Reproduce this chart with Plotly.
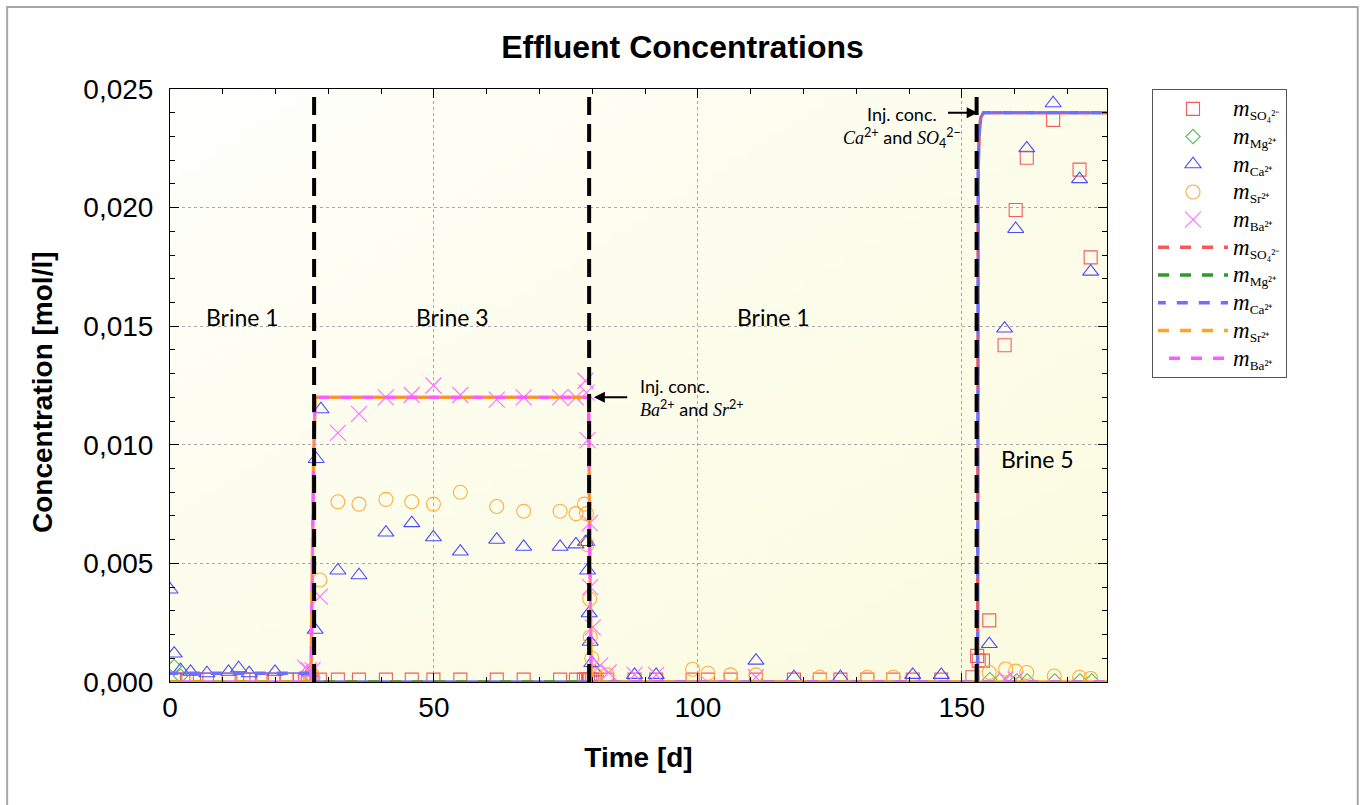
import base64
import struct
import zlib

import plotly.graph_objects as go

# ---------------- measured effluent concentrations [mol/l] ----------------
t_so4 = [1.0, 3.2, 5.0, 7.0, 11.1, 13.9, 15.2, 17.4, 19.6, 22.1, 24.6, 25.6, 26.1, 26.6, 27.0,
         28.4, 31.8, 35.8, 40.9, 45.8, 49.9, 55.0, 61.9, 67.0, 73.9, 76.9, 78.4, 78.8, 79.2,
         79.6, 80.0, 80.6, 82.8, 88.0, 92.1, 99.0, 101.9, 106.2, 111.0, 118.2, 123.1, 127.0,
         132.1, 137.0, 140.7, 146.1, 152.0, 152.9, 153.2, 154.0, 155.2, 158.1, 160.2, 162.3,
         167.3, 172.3, 174.4]
so4 = [0.0001, 0.0001, 0.0001, 0.0001, 0.0001, 0.0001, 0.0001, 0.0001, 0.0001, 0.0001, 0.0001,
       0.0001, 0.0001, 0.0001, 0.0001,
       0.0001, 0.0001, 0.0001, 0.0001, 0.0001, 0.0001, 0.0001, 0.0001, 0.0001, 0.0001, 0.0001,
       0.0001, 0.0001, 0.0001, 0.0001, 0.0001, 0.0001, 0.0001, 0.0001, 0.0001, 0.0001, 0.0001,
       0.0001, 0.0001, 0.0001, 0.0001, 0.0001, 0.0001, 0.0001, 0.0001, 0.0001, 0.0002, 0.0011,
       0.0009, 0.0009, 0.0026, 0.0142, 0.0199, 0.0221, 0.0237, 0.0216, 0.0179]

t_mg = [0.8, 2.0, 155.3, 157.2, 159.1, 160.4, 162.4, 167.6, 172.4, 174.6]
mg = [0.00065, 0.00025, 0.0001, 0.00005, 0.00005, 0.00005, 0.00005, 0.00005, 0.00005, 0.00005]

t_ca = [0.0, 0.8, 2.0, 3.9, 7.0, 11.1, 13.0, 15.0, 19.9, 26.5, 27.5, 27.7, 28.6, 31.8, 35.8,
        40.9, 45.8, 49.9, 55.0, 61.9, 67.0, 73.9, 76.9, 78.7, 79.0, 79.1, 79.4, 79.6, 79.9,
        80.6, 88.0, 92.1, 111.0, 118.2, 127.0, 140.7, 146.1, 155.2, 158.1, 160.2, 162.3,
        167.3, 172.3, 174.4]
ca = [0.0039, 0.0012, 0.0005, 0.00043, 0.00037, 0.00043, 0.00058, 0.00037, 0.00043, 0.0004,
      0.0022, 0.0094, 0.0115, 0.0047, 0.0045, 0.0063, 0.0067, 0.0061, 0.0055, 0.0060, 0.0057,
      0.0057, 0.0058, 0.0059, 0.0059, 0.0047, 0.0029, 0.0017, 0.0008, 0.0004, 0.0003, 0.0003,
      0.0009, 0.0002, 0.0002, 0.0003, 0.0003, 0.0016, 0.0149, 0.0191, 0.0225, 0.0244, 0.0212,
      0.0173]

t_sr = [26.5, 27.0, 28.4, 31.8, 35.8, 40.9, 45.8, 49.9, 55.0, 61.9, 67.0, 73.9, 76.9, 78.5,
        78.9, 79.0, 79.5, 79.6, 79.9, 80.6, 82.8, 99.0, 101.9, 106.2, 111.0, 123.1, 132.1,
        137.0, 155.2, 158.3, 160.2, 162.3, 167.5, 172.3, 174.4]
sr = [0.0004, 0.0003, 0.0043, 0.0076, 0.0075, 0.0077, 0.0076, 0.0075, 0.0080, 0.0074, 0.0072,
      0.0072, 0.0071, 0.0075, 0.0071, 0.0058, 0.0035, 0.0019, 0.0010, 0.0003, 0.0003, 0.00054,
      0.00037, 0.0003, 0.0003, 0.0002, 0.0002, 0.0002, 0.0004, 0.00055, 0.00046, 0.0004,
      0.00025, 0.0002, 0.00015]

t_ba = [25.6, 26.3, 27.0, 28.4, 31.8, 35.8, 40.9, 45.8, 49.9, 55.0, 61.9, 67.0, 73.9, 76.9,
        78.7, 78.9, 79.1, 79.5, 79.6, 80.1, 81.5, 83.1, 88.0, 92.1, 111.0, 158.3, 160.2]
ba = [0.0006, 0.0005, 0.0005, 0.0036, 0.0105, 0.0113, 0.0120, 0.0121, 0.0125, 0.0121, 0.0119,
      0.0120, 0.0120, 0.0120, 0.0127, 0.0122, 0.0102, 0.0067, 0.0040, 0.0023, 0.0007, 0.0004,
      0.0003, 0.0003, 0.0002, 0.0001, 0.0001]

# ---------------- simulated effluent concentrations [mol/l] ----------------
tm_so4 = [0.0, 153.0, 153.1, 153.3, 153.6, 154.1, 177.5]
m_so4 = [0.0, 0.0, 0.0217, 0.0232, 0.0238, 0.0240, 0.0240]
tm_mg = [0.0, 177.5]
m_mg = [0.0, 0.0]
tm_ca = [0.0, 27.2, 27.4, 153.0, 153.1, 153.3, 153.6, 154.1, 177.5]
m_ca = [0.00037, 0.00037, 0.0, 0.0, 0.0217, 0.0232, 0.0238, 0.0240, 0.0240]
tm_sr = [0.0, 26.7, 26.9, 27.2, 27.5, 79.3, 79.5, 79.8, 177.5]
m_sr = [0.0, 0.0, 0.0037, 0.0094, 0.0120, 0.0120, 0.0060, 0.0, 0.0]
tm_ba = tm_sr
m_ba = m_sr

# brine switches [d] and labels
switch_days = [27.3, 79.4, 152.8]
brine_labels = ["Brine 1", "Brine 3", "Brine 1", "Brine 5"]
brine_x = [13.7, 53.5, 114.4, 164.3]
brine_y = [0.0154, 0.0154, 0.0154, 0.0094]

ions = ["SO₄²⁻", "Mg²⁺", "Ca²⁺", "Sr²⁺", "Ba²⁺"]
names = ["<span style='font-family:Liberation Serif;font-size:23px'><i>m</i></span>"
         "<sub>%s</sub>" % s for s in ions]

mk_colors = ["#f25c5c", "#5cb85c", "#4b4bff", "#ffad40", "#ff70ff"]
ln_colors = ["#f45a5a", "#2e9a2e", "#6f6fff", "#ffa51e", "#ff5cff"]
symbols = ["square-open", "diamond-open", "triangle-up-open", "circle-open", "x-thin"]
sizes = [13, 11, 14, 14, 16]

measured = [(t_so4, so4), (t_mg, mg), (t_ca, ca), (t_sr, sr), (t_ba, ba)]
model = [(tm_so4, m_so4), (tm_mg, m_mg), (tm_ca, m_ca), (tm_sr, m_sr), (tm_ba, m_ba)]
# dash phases chosen so coinciding curves alternate colour
dashes = ["11px,11px", "11px,11px", "7.8px,11px,3.2px,0px", "11px,11px", "0px,11px,11px,0px"]


def gradient_png(w, h, c0, c1):
    """Small diagonal colour-ramp PNG used as the plot-area fill."""
    rows = []
    for j in range(h):
        row = bytearray([0])
        for i in range(w):
            t = ((i / (w - 1)) + (j / (h - 1))) / 2.0
            t = t ** 0.7
            row += bytes(int(round(a + (b - a) * t)) for a, b in zip(c0, c1))
        rows.append(bytes(row))
    raw = b"".join(rows)

    def chunk(tag, data):
        c = struct.pack(">I", len(data)) + tag + data
        return c + struct.pack(">I", zlib.crc32(tag + data) & 0xFFFFFFFF)

    png = b"\x89PNG\r\n\x1a\n"
    png += chunk(b"IHDR", struct.pack(">IIBBBBB", w, h, 8, 2, 0, 0, 0))
    png += chunk(b"IDAT", zlib.compress(raw, 9))
    png += chunk(b"IEND", b"")
    return "data:image/png;base64," + base64.b64encode(png).decode()


fig = go.Figure()

for (tx, vy), nm, col, sym, sz in zip(measured, names, mk_colors, symbols, sizes):
    fig.add_trace(go.Scatter(
        x=tx, y=vy, mode="markers", name=nm,
        marker=dict(symbol=sym, size=sz, color=col,
                    line=dict(color=col, width=1.1)),
    ))

for (tx, vy), nm, col, dsh in zip(model, names, ln_colors, dashes):
    # thin continuous curve
    fig.add_trace(go.Scatter(
        x=tx, y=vy, mode="lines", showlegend=False, hoverinfo="skip",
        line=dict(color=col, width=1.2, simplify=False),
    ))
    # thick dashes over it
    fig.add_trace(go.Scatter(
        x=tx, y=vy, mode="lines", name=nm,
        line=dict(color=col, width=3.5, dash=dsh, simplify=False),
    ))

shapes = []
for d in switch_days:
    shapes.append(dict(type="line", xref="x", yref="paper", x0=d, x1=d, y0=0, y1=1,
                       line=dict(color="black", width=4, dash="18px,9px"), layer="above"))
# outer frame
shapes.append(dict(type="rect", xref="paper", yref="paper",
                   x0=-0.1738, x1=1.2676, y0=-0.25, y1=1.1383,
                   line=dict(color="#a6a6a6", width=2), fillcolor="rgba(0,0,0,0)",
                   layer="below"))

ann = []
for lab, bx, by in zip(brine_labels, brine_x, brine_y):
    ann.append(dict(x=bx, y=by, xref="x", yref="y", text=lab, showarrow=False,
                    font=dict(family="Lato", size=23, color="black")))

serif = "font-family:Liberation Serif"
ann.append(dict(x=88.6, y=0.0120, xref="x", yref="y", xanchor="left", yanchor="middle",
                align="left", showarrow=False,
                text="Inj. conc.<br><span style='%s'><i>Ba</i></span><sup>2+</sup> and "
                     "<span style='%s'><i>Sr</i></span><sup>2+</sup>" % (serif, serif),
                font=dict(family="Lato", size=18, color="black")))
ann.append(dict(x=80.3, y=0.0120, ax=86.9, ay=0.0120, xref="x", yref="y",
                axref="x", ayref="y", text="", showarrow=True, arrowhead=2,
                arrowsize=1.1, arrowwidth=2, arrowcolor="black"))
ann.append(dict(x=138.7, y=0.0245, xref="x", yref="y", xanchor="center", yanchor="top",
                align="center", showarrow=False,
                text="Inj. conc.<br><span style='%s'><i>Ca</i></span><sup>2+</sup> and "
                     "<span style='%s'><i>SO</i></span><sub>4</sub><sup>2−</sup>" % (serif, serif),
                font=dict(family="Lato", size=18, color="black")))
ann.append(dict(x=153.0, y=0.0240, ax=147.1, ay=0.0240, xref="x", yref="y",
                axref="x", ayref="y", text="", showarrow=True, arrowhead=2,
                arrowsize=1.1, arrowwidth=2, arrowcolor="black"))
# y-axis title
ann.append(dict(x=-0.1366, y=0.489, xref="paper", yref="paper", xanchor="center",
                yanchor="middle", textangle=-90, showarrow=False,
                text="<b>Concentration [mol/l]</b>",
                font=dict(family="Liberation Sans", size=28, color="black")))

axis_common = dict(
    showline=True, linecolor="black", linewidth=1, mirror="ticks",
    ticks="inside", ticklen=9, tickcolor="black", tickwidth=1,
    showgrid=True, gridcolor="#a8a8a8", griddash="dot", gridwidth=1,
    zeroline=False,
    tickfont=dict(family="Liberation Sans", size=28, color="black"),
)

fig.update_layout(
    width=1365, height=805,
    margin=dict(l=170, r=258, t=89, b=123, autoexpand=False),
    paper_bgcolor="white", plot_bgcolor="rgba(0,0,0,0)",
    separators=",.",
    images=[dict(source=gradient_png(48, 48, (255, 255, 255), (251, 251, 224)),
                 xref="paper", yref="paper", x=0, y=1, sizex=1, sizey=1,
                 sizing="stretch", xanchor="left", yanchor="top", layer="below")],
    title=dict(text="<b>Effluent Concentrations</b>", x=0.5, xref="container",
               y=1 - 47 / 805, yref="container", yanchor="middle",
               font=dict(family="Liberation Sans", size=32, color="black")),
    xaxis=dict(range=[0, 177.5], tick0=0, dtick=50,
               minor=dict(dtick=10, ticks="inside", ticklen=5, tickcolor="black", showgrid=False),
               title=dict(text="<b>Time [d]</b>", standoff=25,
                          font=dict(family="Liberation Sans", size=28, color="black")),
               **axis_common),
    yaxis=dict(range=[0, 0.025], tick0=0, dtick=0.005, tickformat=".3f",
               minor=dict(dtick=0.001, ticks="inside", ticklen=5, tickcolor="black", showgrid=False),
               ticklabelstandoff=10,
               **axis_common),
    legend=dict(x=(1152 - 170) / 937, xanchor="left", y=1.0, yanchor="top",
                bordercolor="#555555", borderwidth=1, bgcolor="white",
                itemwidth=70, tracegroupgap=0,
                font=dict(family="Liberation Serif", size=19, color="black")),
    shapes=shapes,
    annotations=ann,
    showlegend=True,
)

fig.write_html("out.html")
